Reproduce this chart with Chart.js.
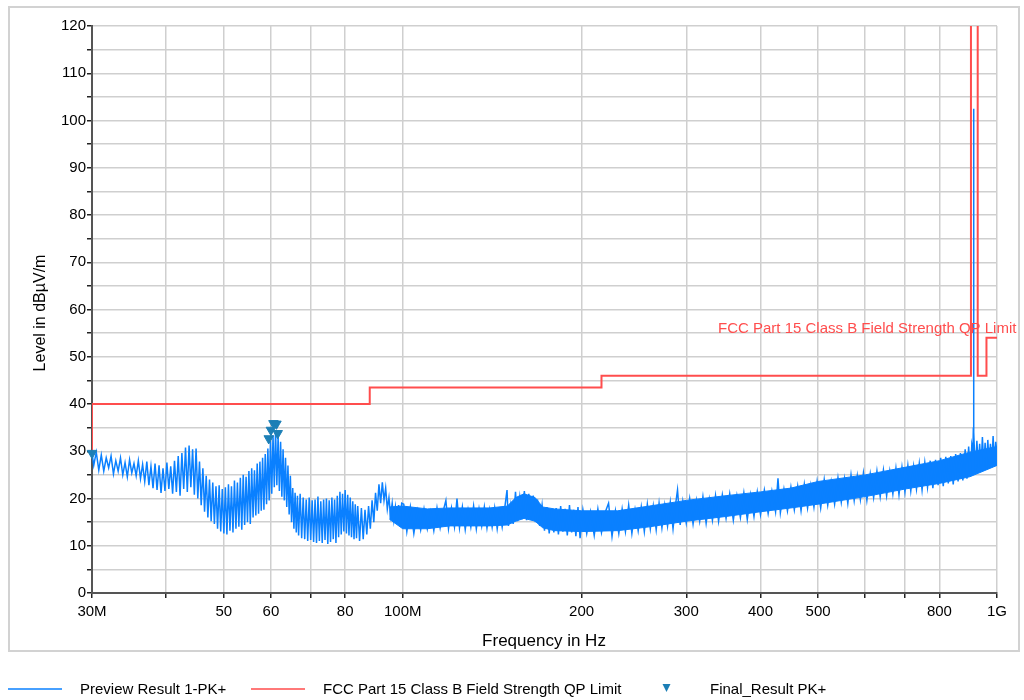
<!DOCTYPE html>
<html>
<head>
<meta charset="utf-8">
<script src="https://cdn.jsdelivr.net/npm/chart.js@4/dist/chart.umd.min.js"></script>
<style>
  html, body { margin: 0; padding: 0; background: #fff; }
  #wrap { width: 1024px; height: 700px; }
</style>
</head>
<body>
<div id="wrap"><canvas id="emc" width="1024" height="700"></canvas></div>
<script>
// x ticks (MHz) and which of them carry a label
const xTickValues = [30, 40, 50, 60, 70, 80, 100, 200, 300, 400, 500, 600, 700, 800, 1000];
const xTickLabels = ['30M', '', '50', '60', '', '80', '100M', '200', '300', '400', '500', '', '', '800', '1G'];

// limit line, MHz / dBµV/m
const limitFreq = [30, 30, 88, 88, 216, 216, 904, 904, 928, 928, 960, 960, 1000];
const limitLevel = [30, 40, 40, 43.5, 43.5, 46, 46, 130, 130, 46, 46, 54, 54];

// final measurement markers
const finalFreq = [30.0, 59.5, 60.0, 60.6, 61.3, 61.6];
const finalLevel = [29.6, 32.7, 34.5, 35.9, 35.8, 33.8];

const previewTrace = [
  [30.0, 29.6], [30.2, 27.0], [30.5, 29.8], [30.8, 26.0], [31.1, 29.2], [31.4, 25.8], [31.7, 28.6], [32.0, 26.5],
  [32.3, 29.0], [32.6, 25.2], [32.9, 28.0], [33.2, 25.8], [33.5, 28.6], [33.8, 25.0], [34.1, 27.6], [34.4, 24.6],
  [34.7, 28.2], [35.0, 25.4], [35.3, 27.4], [35.6, 24.8], [35.9, 28.0], [36.2, 24.2], [36.5, 27.2], [36.8, 23.6],
  [37.1, 27.8], [37.4, 22.8], [37.7, 26.8], [38.0, 22.2], [38.3, 27.4], [38.6, 21.8], [38.9, 27.0], [39.2, 21.2],
  [39.5, 26.4], [39.8, 21.6], [40.1, 27.6], [40.4, 22.0], [40.7, 26.8], [41.0, 21.0], [41.3, 28.0], [41.6, 21.4],
  [41.9, 29.0], [42.2, 20.6], [42.5, 29.6], [42.8, 22.0], [43.1, 30.8], [43.4, 21.4], [43.7, 31.2], [44.0, 22.4],
  [44.3, 30.4], [44.6, 20.8], [44.9, 30.6], [45.2, 20.0], [45.5, 27.8], [45.8, 18.6], [46.1, 26.4], [46.4, 17.2],
  [46.7, 24.8], [47.0, 16.0], [47.3, 24.0], [47.6, 15.2], [47.9, 23.4], [48.2, 14.6], [48.5, 22.6], [48.8, 13.6],
  [49.1, 22.8], [49.4, 13.0], [49.7, 22.0], [50.0, 12.6], [50.3, 22.4], [50.6, 12.4], [50.9, 23.0], [51.2, 13.2],
  [51.5, 22.6], [51.8, 12.8], [52.1, 23.8], [52.4, 13.6], [52.7, 23.4], [53.0, 14.0], [53.3, 24.4], [53.6, 13.4],
  [53.9, 25.0], [54.2, 14.4], [54.5, 24.6], [54.8, 15.0], [55.1, 25.8], [55.4, 14.6], [55.7, 26.4], [56.0, 16.0],
  [56.3, 26.0], [56.6, 16.4], [56.9, 27.4], [57.2, 16.8], [57.5, 27.8], [57.8, 17.4], [58.1, 28.6], [58.4, 17.6],
  [58.7, 29.4], [59.0, 18.8], [59.3, 30.6], [59.6, 19.6], [59.9, 32.2], [60.2, 21.0], [60.5, 33.4], [60.8, 22.4],
  [61.1, 34.4], [61.4, 22.8], [61.7, 33.2], [62.0, 21.6], [62.3, 32.0], [62.6, 20.4], [62.9, 30.4], [63.2, 19.6],
  [63.5, 28.6], [63.8, 18.2], [64.1, 27.0], [64.4, 16.6], [64.7, 24.8], [65.0, 15.0], [65.3, 22.2], [65.6, 13.6],
  [65.9, 21.2], [66.2, 12.8], [66.5, 20.6], [66.8, 12.2], [67.2, 21.0], [67.6, 11.6], [68.0, 20.2], [68.4, 11.4],
  [68.8, 19.8], [69.2, 11.0], [69.6, 20.2], [70.0, 11.2], [70.4, 19.6], [70.8, 10.8], [71.2, 19.8], [71.6, 10.6],
  [72.0, 20.4], [72.4, 11.0], [72.8, 19.4], [73.2, 10.6], [73.6, 19.8], [74.0, 11.2], [74.4, 20.0], [74.8, 10.4],
  [75.2, 19.6], [75.6, 10.8], [76.0, 20.2], [76.4, 11.4], [76.8, 19.8], [77.2, 10.6], [77.6, 20.6], [78.0, 11.8],
  [78.4, 21.4], [78.8, 12.4], [79.2, 21.0], [79.6, 13.0], [80.0, 21.8], [80.4, 12.6], [80.8, 20.8], [81.2, 12.2],
  [81.6, 20.2], [82.0, 11.8], [82.4, 19.4], [82.8, 11.4], [83.2, 18.8], [83.6, 11.6], [84.0, 18.4], [84.6, 11.0],
  [85.2, 18.0], [85.8, 11.4], [86.4, 17.6], [87.0, 12.4], [87.6, 18.4], [88.2, 13.6], [88.8, 19.6], [89.4, 15.0],
  [90.0, 21.2], [90.6, 17.4], [91.2, 23.0], [91.8, 19.0], [92.4, 23.4], [93.0, 19.6], [93.6, 22.2], [94.2, 17.8],
  [94.8, 20.2], [95.4, 16.4], [96.0, 19.0], [96.6, 15.4], [97.2, 18.2], [97.8, 15.0], [98.4, 18.6], [99.0, 14.6],
  [99.6, 19.0], [100.4, 18.8], [101.6, 13.0], [103.0, 18.2], [104.4, 12.6], [105.8, 17.4], [107.2, 13.4], [108.6, 17.8],
  [110.0, 13.6], [111.4, 17.2], [112.8, 13.2], [114.2, 18.0], [115.6, 13.8], [117.0, 17.4], [118.2, 19.6], [119.4, 13.6],
  [120.8, 18.0], [122.2, 14.0], [123.4, 20.0], [124.6, 13.8], [126.0, 18.2], [127.4, 13.4], [128.8, 17.6], [130.2, 14.0],
  [131.6, 18.4], [133.0, 13.6], [134.4, 17.8], [135.8, 14.2], [137.2, 18.2], [138.6, 13.8], [140.0, 17.6], [141.4, 14.0],
  [142.8, 18.0], [144.2, 13.6], [145.6, 17.2], [147.0, 14.0], [148.4, 17.8], [149.8, 21.8], [150.6, 14.2], [152.0, 18.6],
  [153.4, 14.6], [154.8, 21.4], [156.0, 15.2], [157.4, 20.2], [158.8, 15.6], [160.2, 21.6], [161.6, 15.4], [163.0, 21.0],
  [164.4, 15.8], [165.8, 20.6], [167.2, 15.0], [168.6, 19.8], [170.0, 14.2], [171.6, 18.6], [173.2, 13.2], [174.8, 18.2],
  [176.4, 12.6], [178.0, 17.6], [179.6, 12.8], [181.2, 18.0], [182.8, 12.4], [184.4, 18.4], [186.0, 13.0], [187.6, 17.8],
  [189.2, 12.2], [190.8, 18.6], [192.4, 12.8], [194.0, 17.6], [195.6, 12.0], [197.2, 18.2], [198.8, 11.6], [201, 17.6],
  [204, 12.6], [207, 17.2], [210, 12.2], [213, 17.8], [216, 12.8], [219, 17.0], [222, 19.0], [225, 12.0],
  [228, 17.4], [231, 12.6], [234, 17.8], [237, 13.0], [240, 18.6], [243, 12.6], [246, 17.6], [249, 13.2],
  [252, 18.2], [255, 13.0], [258, 18.8], [261, 13.6], [264, 18.4], [267, 13.4], [270, 19.0], [273, 13.8],
  [276, 18.6], [279, 14.2], [282, 19.2], [285, 13.6], [288, 19.0], [290, 21.8], [293, 14.4], [296, 19.4],
  [300, 14.8], [304, 20.0], [308, 14.6], [312, 19.6], [316, 15.2], [320, 20.4], [324, 14.8], [328, 19.8],
  [332, 15.4], [336, 20.6], [340, 15.2], [345, 20.8], [350, 15.8], [355, 21.0], [360, 15.4], [365, 20.6],
  [370, 16.0], [375, 21.2], [380, 15.6], [385, 20.8], [390, 16.2], [395, 21.4], [400, 16.6], [406, 21.8],
  [412, 16.8], [418, 21.6], [424, 17.2], [428, 24.3], [432, 17.0], [438, 22.0], [444, 17.4], [450, 22.4],
  [456, 17.6], [462, 22.6], [468, 17.4], [474, 23.0], [480, 18.0], [486, 22.8], [492, 18.2], [498, 23.6],
  [505, 18.0], [512, 24.0], [519, 18.6], [526, 23.6], [533, 18.8], [540, 24.4], [547, 19.2], [554, 24.2],
  [561, 19.0], [568, 25.0], [575, 19.6], [582, 24.8], [589, 19.8], [596, 25.4], [604, 19.6], [612, 25.2],
  [620, 20.2], [628, 25.8], [636, 20.4], [644, 26.0], [652, 20.6], [660, 25.8], [668, 21.0], [676, 26.4],
  [684, 20.8], [692, 26.6], [700, 21.4], [708, 27.0], [716, 21.6], [724, 26.8], [732, 22.0], [740, 27.4],
  [748, 21.8], [756, 27.6], [764, 22.4], [772, 28.0], [780, 22.2], [788, 28.2], [796, 22.8], [804, 28.6],
  [812, 22.6], [820, 28.8], [828, 23.2], [836, 29.0], [844, 23.0], [852, 29.4], [860, 23.6], [868, 29.6],
  [876, 23.8], [884, 30.4], [890, 24.2], [896, 31.0], [902, 24.6], [907, 31.4], [911, 30.0], [912.5, 35.0],
  [913.3, 102.5], [914.2, 34.0], [916, 30.6], [920, 26.2], [925, 32.2], [930, 26.6], [935, 31.6], [940, 26.4],
  [945, 33.0], [950, 26.8], [955, 31.8], [960, 26.2], [965, 32.4], [970, 27.0], [975, 31.6], [980, 26.6],
  [985, 33.2], [990, 27.2], [995, 32.0], [1000, 29.6]
];

// dense middle of the trace above 95 MHz: upper edge, then lower edge back
const coreUpper = [[95, 18.2], [100, 18.4], [110, 17.8], [120, 18.0], [140, 18.0], [150, 18.4], [155, 20.2], [160, 21.0],
  [167, 20.2], [172, 18.2], [180, 17.8], [200, 17.4], [230, 17.4], [260, 18.4], [300, 19.6], [350, 20.6],
  [400, 21.4], [450, 22.2], [500, 23.6], [600, 25.0], [700, 26.6], [800, 28.0], [900, 29.8], [1000, 31.0]];
const coreLower = [[1000, 27.0], [900, 24.6], [800, 23.2], [700, 22.0], [600, 20.4], [500, 18.8], [450, 18.0],
  [400, 17.2], [350, 16.2], [300, 15.2], [260, 14.0], [230, 13.2], [200, 13.0], [180, 13.2], [172, 13.8],
  [167, 15.2], [160, 15.8], [155, 15.2], [150, 14.4], [140, 14.2], [120, 14.2], [110, 13.6], [100, 13.6], [95, 15.6]];

const BLUE = '#0a80ff';
const RED = '#ff4d4d';
const MARK = '#1c7fb6';
const FONT = '"Liberation Sans", Arial, sans-serif';

Chart.defaults.font.family = FONT;
Chart.defaults.color = '#000';

const toXY = (pairs) => pairs.map(([x, y]) => ({ x, y }));

const decor = {
  id: 'decor',
  beforeDraw(chart) {
    const ctx = chart.ctx;
    ctx.save();
    ctx.strokeStyle = '#d2d2d2';
    ctx.lineWidth = 2;
    ctx.strokeRect(9, 7, 1010, 644);
    ctx.restore();
  },
  afterDraw(chart) {
    const ctx = chart.ctx;
    ctx.save();
    ctx.fillStyle = '#000';
    ctx.textBaseline = 'middle';
    ctx.textAlign = 'center';
    ctx.font = '17px ' + FONT;
    ctx.fillText('Frequency in Hz', 544, 641);
    ctx.save();
    ctx.font = '16px ' + FONT;
    ctx.translate(41, 313);
    ctx.rotate(-Math.PI / 2);
    ctx.fillText('Level in dBµV/m', 0, 0);
    ctx.restore();

    // limit label
    ctx.fillStyle = RED;
    ctx.font = '15px ' + FONT;
    ctx.textAlign = 'left';
    ctx.fillText('FCC Part 15 Class B Field Strength QP Limit', 718, 329);

    // legend
    const ly = 689;
    ctx.lineWidth = 1.5;
    ctx.strokeStyle = BLUE;
    ctx.beginPath(); ctx.moveTo(8, ly); ctx.lineTo(62, ly); ctx.stroke();
    ctx.strokeStyle = RED;
    ctx.beginPath(); ctx.moveTo(251, ly); ctx.lineTo(305, ly); ctx.stroke();
    ctx.fillStyle = MARK;
    ctx.beginPath(); ctx.moveTo(662.5, 684); ctx.lineTo(670.5, 684); ctx.lineTo(666.5, 692); ctx.closePath(); ctx.fill();
    ctx.fillStyle = '#000';
    ctx.font = '15px ' + FONT;
    ctx.fillText('Preview Result 1-PK+', 80, 690);
    ctx.fillText('FCC Part 15 Class B Field Strength QP Limit', 323, 690);
    ctx.fillText('Final_Result PK+', 710, 690);
    ctx.restore();
  }
};

new Chart(document.getElementById('emc'), {
  type: 'scatter',
  data: {
    datasets: [
      {
        label: 'core',
        data: toXY(coreUpper.concat(coreLower)),
        showLine: true,
        fill: 'shape',
        borderColor: BLUE,
        backgroundColor: BLUE,
        borderWidth: 1,
        pointRadius: 0,
        order: 4
      },
      {
        label: 'Preview Result 1-PK+',
        data: toXY(previewTrace),
        showLine: true,
        borderColor: BLUE,
        borderWidth: 1.5,
        pointRadius: 0,
        order: 3
      },
      {
        label: 'FCC Part 15 Class B Field Strength QP Limit',
        data: limitFreq.map((f, i) => ({ x: f, y: limitLevel[i] })),
        showLine: true,
        borderColor: RED,
        borderWidth: 2,
        pointRadius: 0,
        order: 2
      },
      {
        label: 'Final_Result PK+',
        data: finalFreq.map((f, i) => ({ x: f, y: finalLevel[i] })),
        pointStyle: 'triangle',
        rotation: 180,
        pointRadius: 5.5,
        backgroundColor: MARK,
        borderColor: MARK,
        borderWidth: 1,
        clip: false,
        order: 1
      }
    ]
  },
  options: {
    responsive: false,
    animation: false,
    layout: { padding: { left: 0, top: 26, right: 27, bottom: 0 } },
    plugins: {
      legend: { display: false },
      tooltip: { enabled: false }
    },
    scales: {
      x: {
        type: 'logarithmic',
        min: 30,
        max: 1000,
        afterFit: (scale) => { scale.height = 107; },
        afterBuildTicks: (scale) => { scale.ticks = xTickValues.map((v) => ({ value: v })); },
        ticks: {
          autoSkip: false,
          maxRotation: 0,
          padding: 5,
          font: { size: 15 },
          color: '#000',
          callback: (value) => {
            const i = xTickValues.indexOf(value);
            return i >= 0 ? xTickLabels[i] : '';
          }
        },
        grid: { color: '#cfcfcf', lineWidth: 1.5, tickLength: 5, tickColor: '#222', tickWidth: 1.5 },
        border: { color: '#555', width: 2 }
      },
      y: {
        min: 0,
        max: 120,
        afterFit: (scale) => { scale.width = 92; },
        ticks: {
          stepSize: 5,
          autoSkip: false,
          padding: 1,
          font: { size: 15 },
          color: '#000',
          callback: (value) => (value % 10 === 0 ? value : '')
        },
        grid: { color: '#cfcfcf', lineWidth: 1.5, tickLength: 5, tickColor: '#222', tickWidth: 1.5 },
        border: { color: '#555', width: 2 }
      }
    }
  },
  plugins: [decor]
});
</script>
</body>
</html>
